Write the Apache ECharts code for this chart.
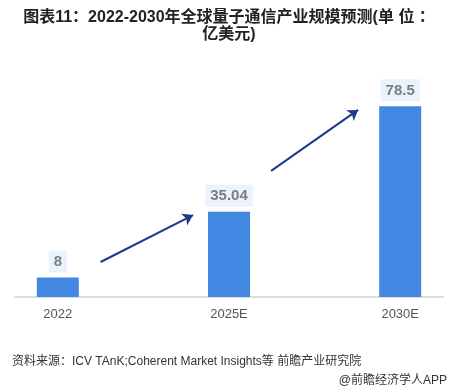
<!DOCTYPE html>
<html><head><meta charset="utf-8">
<script src="https://cdn.jsdelivr.net/npm/echarts@6/dist/echarts.min.js"></script>
<style>html,body{margin:0;padding:0;background:#fff}#c{width:458px;height:391px}</style>
</head><body><div id="c"></div>
<script>
const categories = ['2022', '2025E', '2030E'];
const values = [8, 35.04, 78.5];
const titleLine1 = '图表11：2022-2030年全球量子通信产业规模预测(单 位 ：';
const titleLine2 = '亿美元)';
const sourceText = '资料来源：ICV TAnK;Coherent Market Insights等 前瞻产业研究院';
const creditText = '@前瞻经济学人APP';
// arrow annotations: [startIndex, startValue] -> [endIndex, endValue]
const arrows = [
  [[0.25, 14.4], [0.79, 33.7]],
  [[1.246, 51.9], [1.754, 77.0]]
];

const chart = echarts.init(document.getElementById('c'), null, {renderer: 'canvas'});
const cjk = "'Liberation Sans', 'Noto Sans CJK SC', sans-serif";
chart.setOption({
  backgroundColor: '#fff',
  animation: false,
  title: [
    {text: titleLine1 + '\n' + titleLine2, left: 'center', top: 4,
     textStyle: {fontSize: 16, fontWeight: 'bold', color: '#222', fontFamily: cjk, lineHeight: 17}},
    {text: sourceText, left: 7, top: 351,
     textStyle: {fontSize: 12, fontWeight: 'normal', color: '#333', fontFamily: cjk}},
    {text: creditText, right: 6, top: 370,
     textStyle: {fontSize: 12, fontWeight: 'normal', color: '#333', fontFamily: cjk}}
  ],
  grid: {left: 15, right: 15, top: 54, bottom: 94},
  xAxis: {type: 'value', min: -0.25, max: 2.25,
    splitLine: {show: false},
    axisLine: {show: true, onZero: false, lineStyle: {color: '#dcdcdc', width: 2}},
    axisTick: {show: false},
    axisLabel: {color: '#555', fontSize: 13, margin: 11, fontFamily: "'Liberation Sans', sans-serif",
      customValues: [0, 1, 2], formatter: v => categories[Math.round(v)] || ''}},
  yAxis: {type: 'value', min: 0, max: 100, show: false, splitLine: {show: false}},
  series: [
    {type: 'bar', data: values.map((v, i) => [i, v]), barWidth: 42,
     itemStyle: {color: '#4287E2'},
     label: {show: true, position: 'top', distance: 5,
       formatter: p => String(p.value[1]),
       color: '#7d7d7d', fontSize: 15, fontWeight: 'bold', fontFamily: "'Liberation Sans', sans-serif",
       backgroundColor: '#EAF2FD', padding: [4, 5, 3, 5]}},
    {type: 'lines', coordinateSystem: 'cartesian2d',
     symbol: ['none', 'arrow'], symbolSize: 10,
     lineStyle: {color: '#1B3A8C', width: 2, opacity: 1},
     data: arrows.map(a => ({coords: a}))}
  ]
});
</script></body></html>
